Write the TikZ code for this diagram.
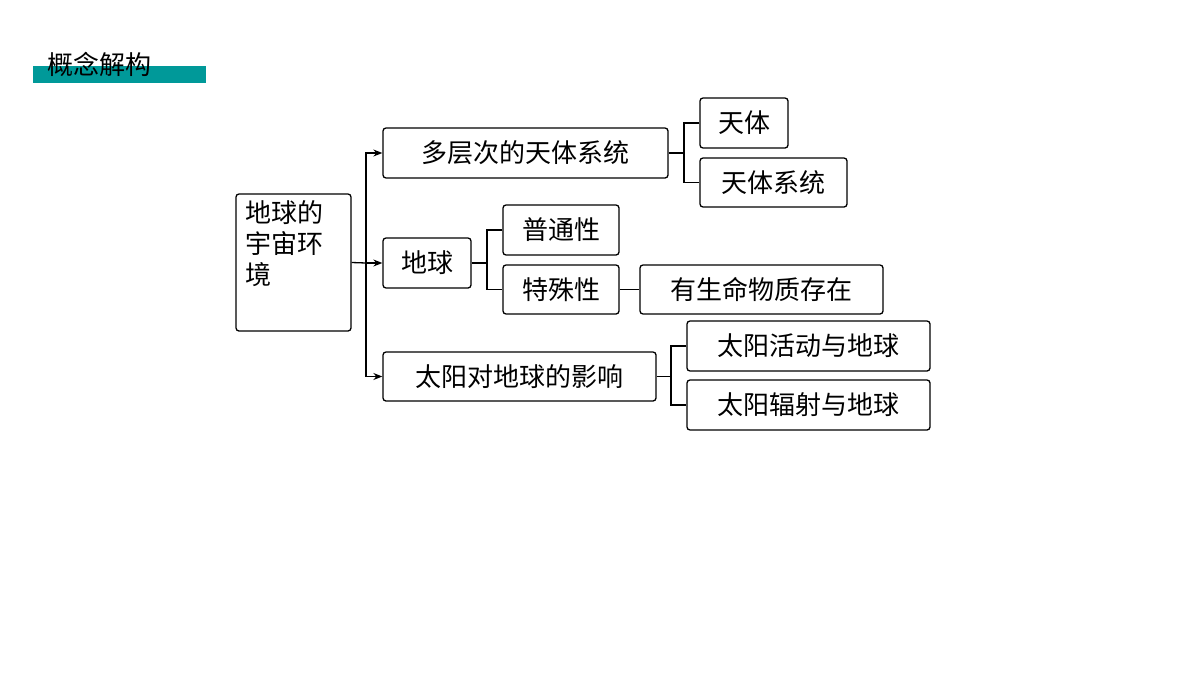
\documentclass[tikz,border=0pt]{standalone}
\usepackage{fontspec}
\newfontfamily\cjk{Noto Sans CJK SC}
\usetikzlibrary{arrows.meta}
\begin{document}
\begin{tikzpicture}[x=1pt,y=-1pt,
  bx/.style={draw,line width=1.3pt,rounded corners=3pt,inner sep=0pt},
  ln/.style={line width=1.3pt},
  ar/.style={ln,-{Stealth[length=9pt,width=7pt]}},
  tx/.style={font=\cjk\fontsize{26}{31}\selectfont}]
\useasboundingbox (0,0) rectangle (1200,675);
\fill[teal!80!cyan] (33,66) rectangle (206,83);
\node[tx,anchor=west] (title) at (44,64) {概念解构};
\node[bx,minimum width=115pt,minimum height=137pt] (root) at (293.5,262.5) {};
\node[tx,anchor=north west,align=left,inner sep=0pt] (roottxt) at (245,200) {地球的\\宇宙环\\境};
\node[bx,tx,minimum width=285pt,minimum height=50pt] (a) at (525.5,153) {多层次的天体系统};
\node[bx,tx,minimum width=88pt,minimum height=50pt] (b) at (427,263) {地球};
\node[bx,tx,minimum width=273pt,minimum height=49pt] (c) at (519.5,376.5) {太阳对地球的影响};
\node[bx,tx,minimum width=88pt,minimum height=50pt] (a1) at (744,123) {天体};
\node[bx,tx,minimum width=147pt,minimum height=49pt] (a2) at (773.5,182.5) {天体系统};
\node[bx,tx,minimum width=116pt,minimum height=50pt] (b1) at (561,230) {普通性};
\node[bx,tx,minimum width=116pt,minimum height=49pt] (b2) at (561,289.5) {特殊性};
\node[bx,tx,minimum width=243pt,minimum height=49pt] (b3) at (761.5,289.5) {有生命物质存在};
\node[bx,tx,minimum width=243pt,minimum height=50pt] (c1) at (808.5,346) {太阳活动与地球};
\node[bx,tx,minimum width=243pt,minimum height=50pt] (c2) at (808.5,405) {太阳辐射与地球};
\coordinate (t) at (366,263);
\draw[ln] (root.east) -- (t);
\draw[ar] (t) |- (a.west);
\draw[ar] (t) -- (b.west);
\draw[ar] (t) |- (c.west);
\draw[ln] (a.east) -- (684,153) coordinate (ja);
\draw[ln] (a1.west) -| (ja) |- (a2.west);
\draw[ln] (b.east) -- (487,263) coordinate (jb);
\draw[ln] (b1.west) -| (jb) |- (b2.west);
\draw[ln] (b2.east) -- (b3.west);
\draw[ln] (c.east) -- (671,376.5) coordinate (jc);
\draw[ln] (c1.west) -| (jc) |- (c2.west);
\end{tikzpicture}
\end{document}
